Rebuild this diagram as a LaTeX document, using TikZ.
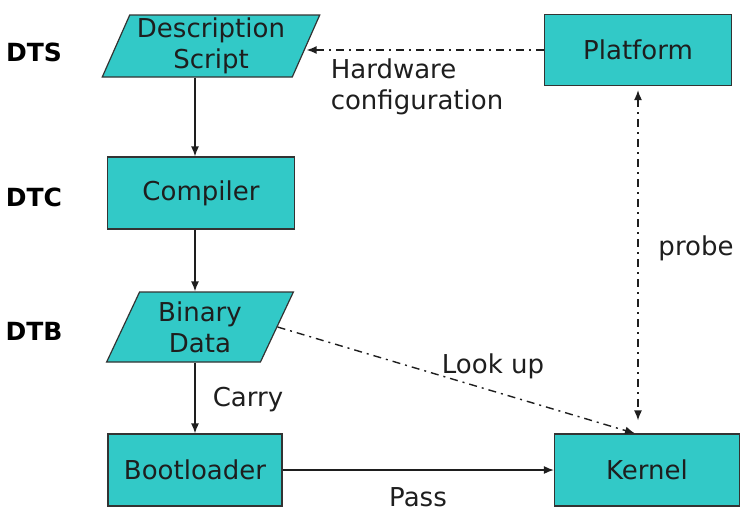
\documentclass[tikz,border=0pt]{standalone}
\usepackage{fontspec}
\setmainfont{DejaVu Sans}
\usepackage{tikz}
\usetikzlibrary{shapes.geometric}
\usetikzlibrary{arrows.meta}
\definecolor{turq}{RGB}{50,201,199}
\definecolor{ink}{RGB}{30,30,30}
\tikzstyle{block}=[draw=black!80,fill=turq,text=ink,line width=1.2pt,minimum width=187pt,minimum height=71pt,inner sep=0pt,align=center]
\tikzstyle{data}=[block,trapezium,trapezium stretches=true,trapezium left angle=66,trapezium right angle=114]
\tikzstyle{stage}=[font=\fontsize{25}{30}\selectfont\bfseries]
\tikzstyle{flow}=[->,>={Latex[length=10pt,width=8pt]},line width=1.4pt,draw=ink]
\tikzstyle{link}=[flow,dash pattern=on 8pt off 5pt on 2pt off 5pt]
\tikzset{every picture/.style={
    x=1pt,y=-1pt,
    font=\fontsize{26}{31}\selectfont
  }
}

\begin{document}
\begin{tikzpicture}
      \useasboundingbox (0,0) rectangle (751,515);
      \node[data,minimum width=218pt,minimum height=62pt] at (211,46) (desc) {Description\\Script};
      \node[block] at (638,50) (plat) {Platform};
      \node[block,minimum height=72pt] at (201,193) (comp) {Compiler};
      \node[data,minimum width=187pt,minimum height=70pt] at (200,327) (bin) {Binary\\Data};
      \node[block,minimum width=174pt,minimum height=72pt] at (195,470) (boot) {Bootloader};
      \node[block,minimum width=185pt,minimum height=72pt] at (647,470) (kern) {Kernel};
      \node[stage] at (34,52) (dts) {DTS};
      \node[stage] at (34,197) (dtc) {DTC};
      \node[stage] at (34,331) (dtb) {DTB};
      \draw[flow] (desc.south -| boot) -- (comp.north -| boot);
      \draw[flow] (comp.south -| boot) -- (bin.north -| boot);
      \draw[flow] (bin.south -| boot) -- (boot.north);
      \draw[flow] (boot.east) -- (kern.west);
      \draw[link] (plat.west) -- (plat.west -| desc.east);
      \draw[link,<->,shorten <=4pt,shorten >=13pt] (plat.south) -- (plat.south |- kern.north);
      \draw[link] (bin.east) -- ([xshift=-12pt]kern.north);
      \node[align=left,text=ink] at (417,87) (hw) {Hardware\\configuration};
      \node[text=ink] at (696,248) (probe) {probe};
      \node[text=ink] at (493,366) (look) {Look up};
      \node[text=ink] at (248,400) (carry) {Carry};
      \node[text=ink] at (418,497) (pass) {Pass};
    \end{tikzpicture}
\end{document}
